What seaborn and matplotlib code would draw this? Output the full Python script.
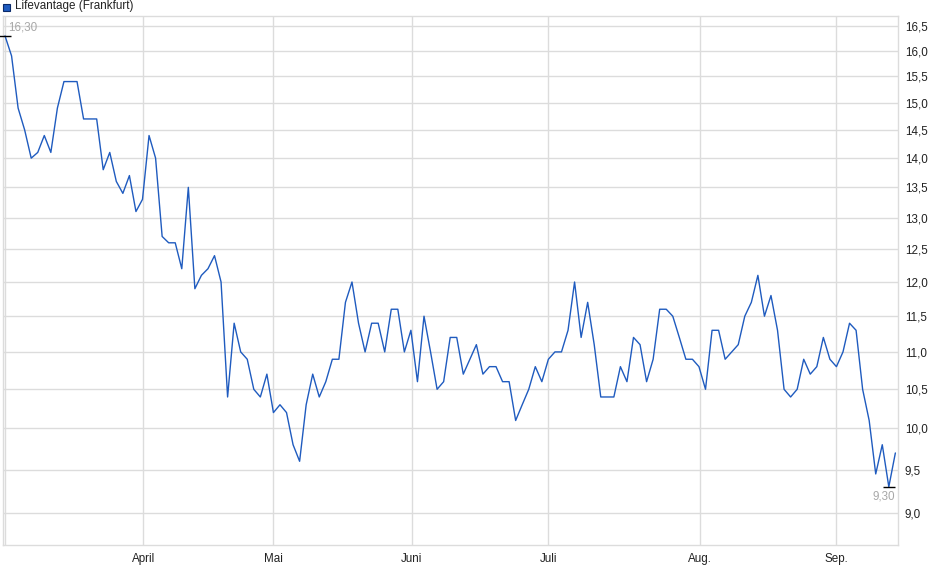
import numpy as np
import pandas as pd
import matplotlib
matplotlib.use("Agg")
import matplotlib.pyplot as plt
import matplotlib.ticker as mticker
import seaborn as sns

# ---- data ----
series_name = "Lifevantage (Frankfurt)"
prices = [
    16.3, 15.9, 14.9, 14.5, 14.0, 14.1, 14.4, 14.1, 14.9, 15.4,
    15.4, 15.4, 14.7, 14.7, 14.7, 13.8, 14.1, 13.6, 13.4, 13.7,
    13.1, 13.3, 14.4, 14.0, 12.7, 12.6, 12.6, 12.2, 13.5, 11.9,
    12.1, 12.2, 12.4, 12.0, 10.4, 11.4, 11.0, 10.9, 10.5, 10.4,
    10.7, 10.2, 10.3, 10.2, 9.8, 9.6, 10.3, 10.7, 10.4, 10.6,
    10.9, 10.9, 11.7, 12.0, 11.4, 11.0, 11.4, 11.4, 11.0, 11.6,
    11.6, 11.0, 11.3, 10.6, 11.5, 11.0, 10.5, 10.6, 11.2, 11.2,
    10.7, 10.9, 11.1, 10.7, 10.8, 10.8, 10.6, 10.6, 10.1, 10.3,
    10.5, 10.8, 10.6, 10.9, 11.0, 11.0, 11.3, 12.0, 11.2, 11.7,
    11.1, 10.4, 10.4, 10.4, 10.8, 10.6, 11.2, 11.1, 10.6, 10.9,
    11.6, 11.6, 11.5, 11.2, 10.9, 10.9, 10.8, 10.5, 11.3, 11.3,
    10.9, 11.0, 11.1, 11.5, 11.7, 12.1, 11.5, 11.8, 11.3, 10.5,
    10.4, 10.5, 10.9, 10.7, 10.8, 11.2, 10.9, 10.8, 11.0, 11.4,
    11.3, 10.5, 10.1, 9.45, 9.8, 9.3, 9.7,
]
month_labels = ["", "April", "Mai", "Juni", "Juli", "Aug.", "Sep."]
month_pos = [0.0, 21.1, 41.0, 62.1, 83.0, 106.1, 127.0]  # trading-day index of month start
y_ticks = [9.0, 9.5, 10.0, 10.5, 11.0, 11.5, 12.0, 12.5, 13.0, 13.5,
           14.0, 14.5, 15.0, 15.5, 16.0, 16.5]

df = pd.DataFrame({"idx": np.arange(len(prices)), "price": prices})

sns.set_theme(style="white")
plt.rcParams["font.family"] = ["Liberation Sans", "DejaVu Sans"]

line_color = "#1f5bbf"
grid_color = "#dcdcdc"

fig = plt.figure(figsize=(9.4, 5.79), dpi=100)
ax = fig.add_axes([0.0029, 0.0587, 0.9524, 0.9137])

sns.lineplot(data=df, x="idx", y="price", ax=ax, color=line_color,
             linewidth=1.0, zorder=3)

ax.set_yscale("log")
ax.set_ylim(8.65, 16.71)
ax.set_xlim(-0.35, 136.4)

ax.yaxis.set_major_locator(mticker.FixedLocator(y_ticks))
ax.yaxis.set_minor_locator(mticker.NullLocator())
ax.set_yticklabels([f"{t:.1f}".replace(".", ",") for t in y_ticks])
ax.yaxis.tick_right()
ax.set_xticks(month_pos)
ax.set_xticklabels(month_labels)
ax.xaxis.set_minor_locator(mticker.NullLocator())

ax.grid(True, color=grid_color, linewidth=1.0, zorder=0)
ax.tick_params(axis="y", which="both", length=0, pad=5, labelsize=8.4, colors="#222222")
ax.tick_params(axis="x", which="both", length=2, width=0.8, color=grid_color,
               pad=4, labelsize=8.4, labelcolor="#222222")
for s in ax.spines.values():
    s.set_color(grid_color)
    s.set_linewidth(1.0)
ax.set_xlabel("")
ax.set_ylabel("")

# high / low markers and labels
vals = np.array(prices)
i_max = int(np.argmax(vals))
i_min = int(np.argmin(vals))
ax.plot([i_max], [vals[i_max]], marker="_", markersize=8, mew=1.0, color="black",
        zorder=4, clip_on=False)
ax.plot([i_min], [vals[i_min]], marker="_", markersize=9, mew=1.0, color="black", zorder=4)
ax.annotate(f"{vals[i_max]:.2f}".replace(".", ","), xy=(i_max, vals[i_max]),
            xytext=(3, 8), textcoords="offset pixels", ha="left", va="center",
            fontsize=8.4, color="#a8a8a8")
ax.annotate(f"{vals[i_min]:.2f}".replace(".", ","), xy=(i_min, vals[i_min]),
            xytext=(-5, -10), textcoords="offset pixels", ha="center", va="center",
            fontsize=8.4, color="#a8a8a8")

# legend-like header
fig.patches.append(plt.Rectangle((3 / 940, 1 - 11 / 579), 7 / 940, 7 / 579,
                                 transform=fig.transFigure, facecolor=line_color,
                                 edgecolor="#0a2a6a", linewidth=0.8))
fig.text(15 / 940, 1 - 6.5 / 579, series_name, ha="left", va="center",
         fontsize=8.4, color="#222222")

fig.savefig("out.png", dpi=100)
